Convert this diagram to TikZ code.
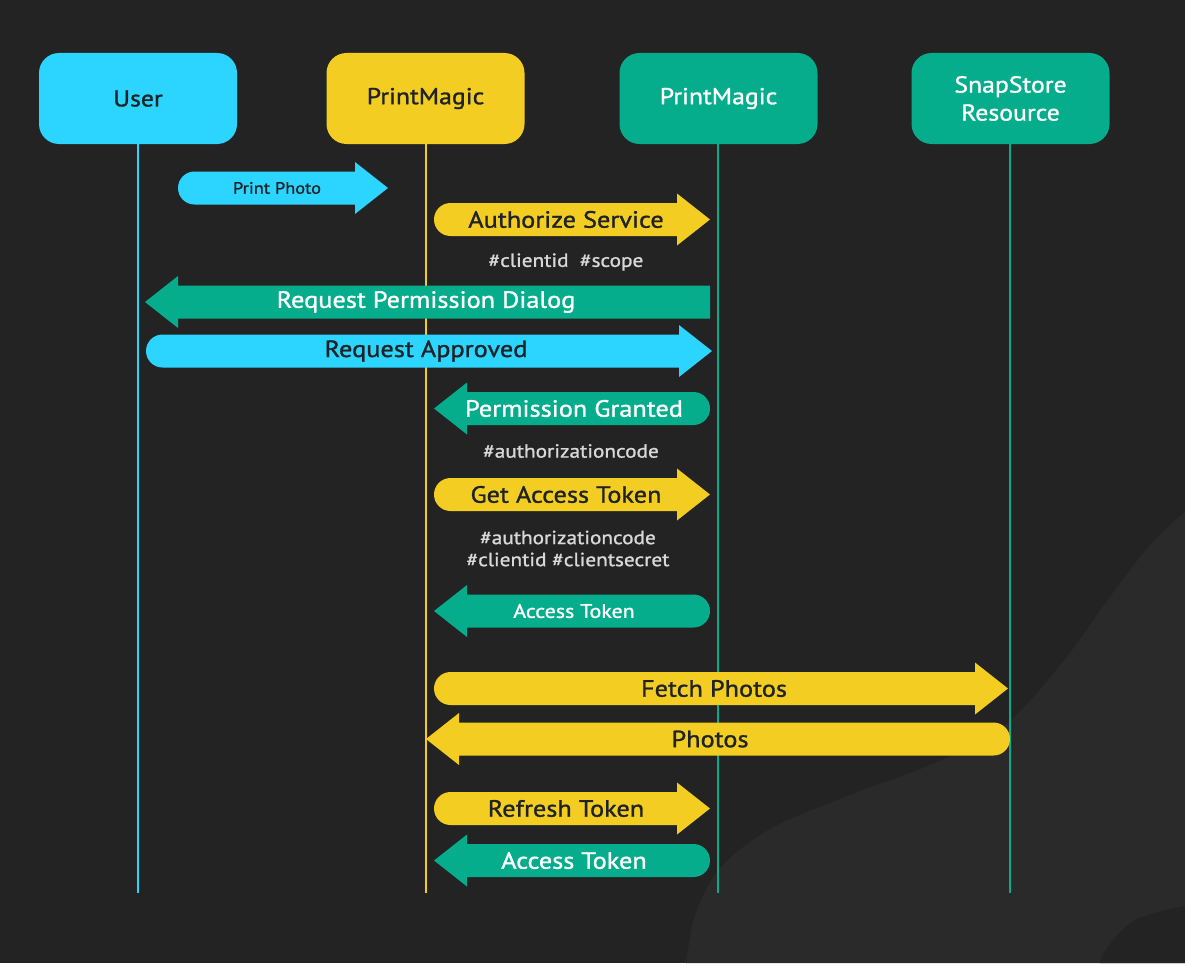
\documentclass[tikz,border=0pt]{standalone}
\usepackage{fontspec}
\setmainfont{PT Sans}[FakeStretch=1.12, FakeBold=1.2, AutoFakeBold=1.2]
\definecolor{bg}{HTML}{232323}
\definecolor{blob}{HTML}{2A2A2A}
\definecolor{ucyan}{HTML}{2CD5FF}
\definecolor{pyellow}{HTML}{F3CD22}
\definecolor{pgreen}{HTML}{05AD8C}
\definecolor{darktxt}{HTML}{1F2326}
\definecolor{notetxt}{HTML}{D8D8D8}
\newcommand\arrR[4]{% tail x, tip x, y, color
  \fill[#4] (#1+16.5,#3-16.5) -- (#2-33,#3-16.5) -- (#2-33,#3-26) -- (#2,#3)
    -- (#2-33,#3+26) -- (#2-33,#3+16.5) -- (#1+16.5,#3+16.5) arc (90:270:16.5) -- cycle;}
\newcommand\arrL[4]{% tip x, tail x, y, color
  \fill[#4] (#1,#3) -- (#1+33,#3-26) -- (#1+33,#3-16.5) -- (#2-16.5,#3-16.5)
    arc (-90:90:16.5) -- (#1+33,#3+16.5) -- (#1+33,#3+26) -- cycle;}
\newcommand\arrLsq[4]{% tip x, square tail x, y, color
  \fill[#4] (#1,#3) -- (#1+33,#3-26) -- (#1+33,#3-16.5) -- (#2,#3-16.5)
    -- (#2,#3+16.5) -- (#1+33,#3+16.5) -- (#1+33,#3+26) -- cycle;}
\begin{document}
\begin{tikzpicture}[x=1pt,y=-1pt,
  actor/.style={rounded corners=20pt, minimum width=198pt, minimum height=91pt,
    inner sep=0pt, font=\bfseries\fontsize{23}{28}\selectfont, align=center},
  lbl/.style={inner sep=0pt, font=\bfseries\fontsize{23.5}{26}\selectfont},
  note/.style={inner sep=0pt, text=notetxt, font=\bfseries\fontsize{19}{23}\selectfont, align=center},
  life/.style={line width=2pt}]
% background
\fill[bg] (0,0) rectangle (1185,963);
\useasboundingbox (0,0) rectangle (1185,963);
\fill[blob] plot[smooth, tension=0.55] coordinates {(1185,512) (1150,545) (1110,597) (1062,663) (1005,725) (935,763) (850,795) (772,828) (722,866) (696,912) (686,963)} -- (1185,963) -- cycle;
\fill[bg] plot[smooth, tension=0.6] coordinates {(1185,906) (1135,920) (1107,948) (1100,963)} -- (1185,963) -- cycle;
% actors
\node[actor, fill=ucyan, text=darktxt] (user) at (138,98.5) {User};
\node[actor, fill=pyellow, text=darktxt] (pmy) at (425.5,98.5) {PrintMagic};
\node[actor, fill=pgreen, text=white] (pmg) at (718.5,98.5) {PrintMagic};
\node[actor, fill=pgreen, text=white] (snap) at (1010.5,98.5) {SnapStore\\Resource};
% lifelines
\coordinate (userEnd) at (138,893);
\coordinate (pmyEnd) at (426,893);
\coordinate (pmgEnd) at (718,893);
\coordinate (snapEnd) at (1010,893);
\draw[life, ucyan] (user.south -| userEnd) -- (userEnd);
\draw[life, pyellow] (pmy.south -| pmyEnd) -- (pmyEnd);
\draw[life, pgreen] (pmg.south -| pmgEnd) -- (pmgEnd);
\draw[life, pgreen] (snap.south -| snapEnd) -- (snapEnd);
% messages
\arrR{178}{388}{188}{ucyan}
\node[lbl, text=darktxt, font=\bfseries\fontsize{16.4}{19}\selectfont] (m1) at (277,188) {Print Photo};
\arrR{434}{710}{219.5}{pyellow}
\node[lbl, text=darktxt] (m2) at (566,219.5) {Authorize Service};
\node[note] (n2) at (566,262) {\#clientid\ \ \#scope};
\arrLsq{145}{710}{302}{pgreen}
\node[lbl, text=white] (m3) at (426,302) {Request Permission Dialog};
\arrR{146}{712}{351}{ucyan}
\node[lbl, text=darktxt] (m4) at (426,351) {Request Approved};
\arrL{434}{710}{408.5}{pgreen}
\node[lbl, text=white] (m5) at (574,408.5) {Permission Granted};
\node[note] (n5) at (571,451) {\#authorizationcode};
\arrR{434}{710}{494.5}{pyellow}
\node[lbl, text=darktxt] (m6) at (566,494.5) {Get Access Token};
\node[note] (n6) at (568,548.5) {\#authorizationcode\\[-1pt]\#clientid \#clientsecret};
\arrL{434}{710}{611}{pgreen}
\node[lbl, text=white, font=\bfseries\fontsize{19.6}{22}\selectfont] (m7) at (574,611) {Access Token};
\arrR{434}{1008}{688.5}{pyellow}
\node[lbl, text=darktxt] (m8) at (714,688.5) {Fetch Photos};
\arrL{426}{1010}{739}{pyellow}
\node[lbl, text=darktxt] (m9) at (710,739) {Photos};
\arrR{434}{710}{808.5}{pyellow}
\node[lbl, text=darktxt] (m10) at (566,808.5) {Refresh Token};
\arrL{434}{710}{860.5}{pgreen}
\node[lbl, text=white] (m11) at (574,860.5) {Access Token};
\end{tikzpicture}
\end{document}
